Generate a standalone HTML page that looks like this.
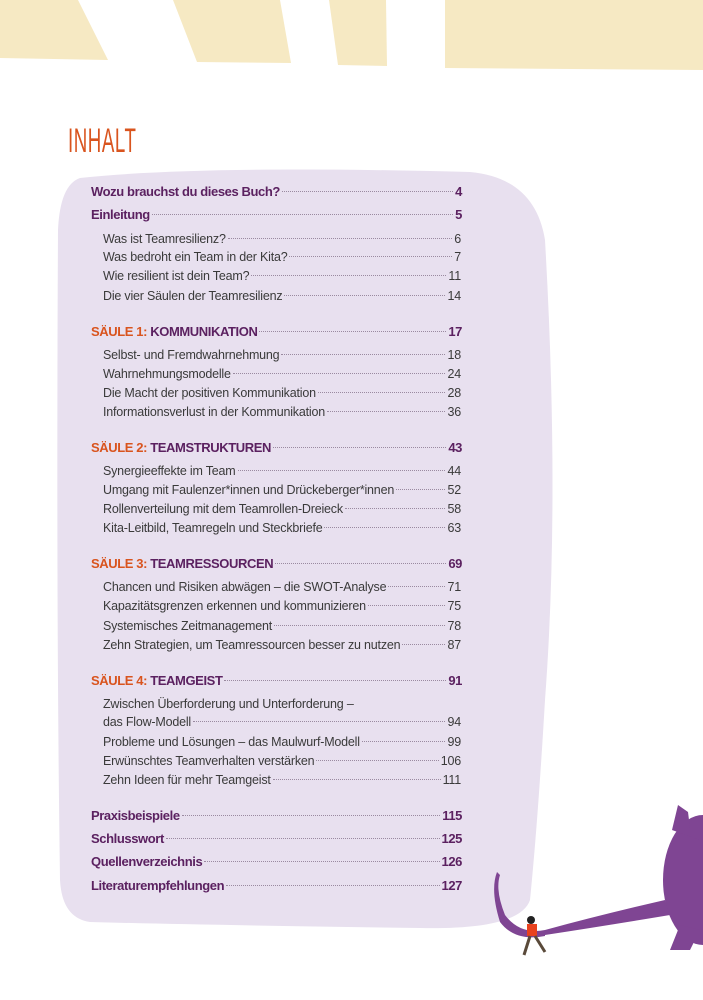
<!DOCTYPE html>
<html><head><meta charset="utf-8"><style>
body{margin:0;width:703px;height:1000px;position:relative;background:#fff;overflow:hidden;font-family:"Liberation Sans",sans-serif}
.r{position:absolute;display:flex;align-items:baseline;height:18px;line-height:18px;white-space:nowrap}
.h{left:91px;width:371px;font-size:13px;font-weight:bold;color:#5b2160;letter-spacing:-0.4px}
.s{left:103px;width:358px;font-size:12.5px;color:#3a3a3a;letter-spacing:-0.2px}
.d{flex:1;border-bottom:1px dotted #9a8aa0;margin:0 2px;transform:translateY(-4px)}
.o{color:#d9541e}
.t{position:absolute;left:68px;top:122px;font-size:34px;color:#d9541e;transform:scaleX(0.55);transform-origin:left top;letter-spacing:1px}
</style></head><body>
<svg width="703" height="1000" style="position:absolute;left:0;top:0">
<polygon points="0,0 78,0 108,60 0,58" fill="#f6e9c3"/>
<polygon points="173,0 280,0 291,63 197,62" fill="#f6e9c3"/>
<polygon points="329,0 386,0 387,66 338,65" fill="#f6e9c3"/>
<polygon points="445,0 703,0 703,70 445,68" fill="#f6e9c3"/>
<path d="M80,178 Q200,165 470,172 Q535,178 545,240 Q560,500 545,700 Q538,820 530,900 Q520,930 420,928 Q200,925 90,922 Q62,918 60,880 Q56,600 58,230 Q60,185 80,178 Z" fill="#e8e0ef"/>
<g fill="#7f4593">
<ellipse cx="703" cy="880" rx="40" ry="65"/>
<path d="M672,830 L678,805 L688,812 L690,828 L700,840 Z"/>
<path d="M680,925 L670,950 L690,950 L700,930 Z"/>
<path d="M665,900 Q600,915 545,930 L545,935 Q610,925 670,915 Z"/>
<path d="M545,930 Q520,935 505,915 Q495,890 500,875 L497,872 Q490,890 500,922 Q515,942 545,936 Z"/>
</g>
<g><circle cx="531" cy="920" r="4" fill="#222"/><rect x="527" y="924" width="10" height="12" fill="#e8421e"/><path d="M530,936 L524,955 M535,936 L545,952" stroke="#5a4a3a" stroke-width="3"/></g>
</svg>
<div class="t">INHALT</div>
<div class="r h" style="top:183px"><span>Wozu brauchst du dieses Buch?</span><span class="d"></span><span>4</span></div>
<div class="r h" style="top:206px"><span>Einleitung</span><span class="d"></span><span>5</span></div>
<div class="r s" style="top:230px"><span>Was ist Teamresilienz?</span><span class="d"></span><span>6</span></div>
<div class="r s" style="top:248px"><span>Was bedroht ein Team in der Kita?</span><span class="d"></span><span>7</span></div>
<div class="r s" style="top:267px"><span>Wie resilient ist dein Team?</span><span class="d"></span><span>11</span></div>
<div class="r s" style="top:287px"><span>Die vier Säulen der Teamresilienz</span><span class="d"></span><span>14</span></div>
<div class="r h" style="top:323px"><span><span class="o">SÄULE 1:</span> KOMMUNIKATION</span><span class="d"></span><span>17</span></div>
<div class="r s" style="top:346px"><span>Selbst- und Fremdwahrnehmung</span><span class="d"></span><span>18</span></div>
<div class="r s" style="top:365px"><span>Wahrnehmungsmodelle</span><span class="d"></span><span>24</span></div>
<div class="r s" style="top:384px"><span>Die Macht der positiven Kommunikation</span><span class="d"></span><span>28</span></div>
<div class="r s" style="top:403px"><span>Informationsverlust in der Kommunikation</span><span class="d"></span><span>36</span></div>
<div class="r h" style="top:439px"><span><span class="o">SÄULE 2:</span> TEAMSTRUKTUREN</span><span class="d"></span><span>43</span></div>
<div class="r s" style="top:462px"><span>Synergieeffekte im Team</span><span class="d"></span><span>44</span></div>
<div class="r s" style="top:481px"><span>Umgang mit Faulenzer*innen und Drückeberger*innen</span><span class="d"></span><span>52</span></div>
<div class="r s" style="top:500px"><span>Rollenverteilung mit dem Teamrollen-Dreieck</span><span class="d"></span><span>58</span></div>
<div class="r s" style="top:519px"><span>Kita-Leitbild, Teamregeln und Steckbriefe</span><span class="d"></span><span>63</span></div>
<div class="r h" style="top:555px"><span><span class="o">SÄULE 3:</span> TEAMRESSOURCEN</span><span class="d"></span><span>69</span></div>
<div class="r s" style="top:578px"><span>Chancen und Risiken abwägen – die SWOT-Analyse</span><span class="d"></span><span>71</span></div>
<div class="r s" style="top:597px"><span>Kapazitätsgrenzen erkennen und kommunizieren</span><span class="d"></span><span>75</span></div>
<div class="r s" style="top:617px"><span>Systemisches Zeitmanagement</span><span class="d"></span><span>78</span></div>
<div class="r s" style="top:636px"><span>Zehn Strategien, um Teamressourcen besser zu nutzen</span><span class="d"></span><span>87</span></div>
<div class="r h" style="top:672px"><span><span class="o">SÄULE 4:</span> TEAMGEIST</span><span class="d"></span><span>91</span></div>
<div class="r s" style="top:695px"><span>Zwischen Überforderung und Unterforderung –</span></div>
<div class="r s" style="top:713px"><span>das Flow-Modell</span><span class="d"></span><span>94</span></div>
<div class="r s" style="top:733px"><span>Probleme und Lösungen – das Maulwurf-Modell</span><span class="d"></span><span>99</span></div>
<div class="r s" style="top:752px"><span>Erwünschtes Teamverhalten verstärken</span><span class="d"></span><span>106</span></div>
<div class="r s" style="top:771px"><span>Zehn Ideen für mehr Teamgeist</span><span class="d"></span><span>111</span></div>
<div class="r h" style="top:807px"><span>Praxisbeispiele</span><span class="d"></span><span>115</span></div>
<div class="r h" style="top:830px"><span>Schlusswort</span><span class="d"></span><span>125</span></div>
<div class="r h" style="top:853px"><span>Quellenverzeichnis</span><span class="d"></span><span>126</span></div>
<div class="r h" style="top:877px"><span>Literaturempfehlungen</span><span class="d"></span><span>127</span></div>
</body></html>
